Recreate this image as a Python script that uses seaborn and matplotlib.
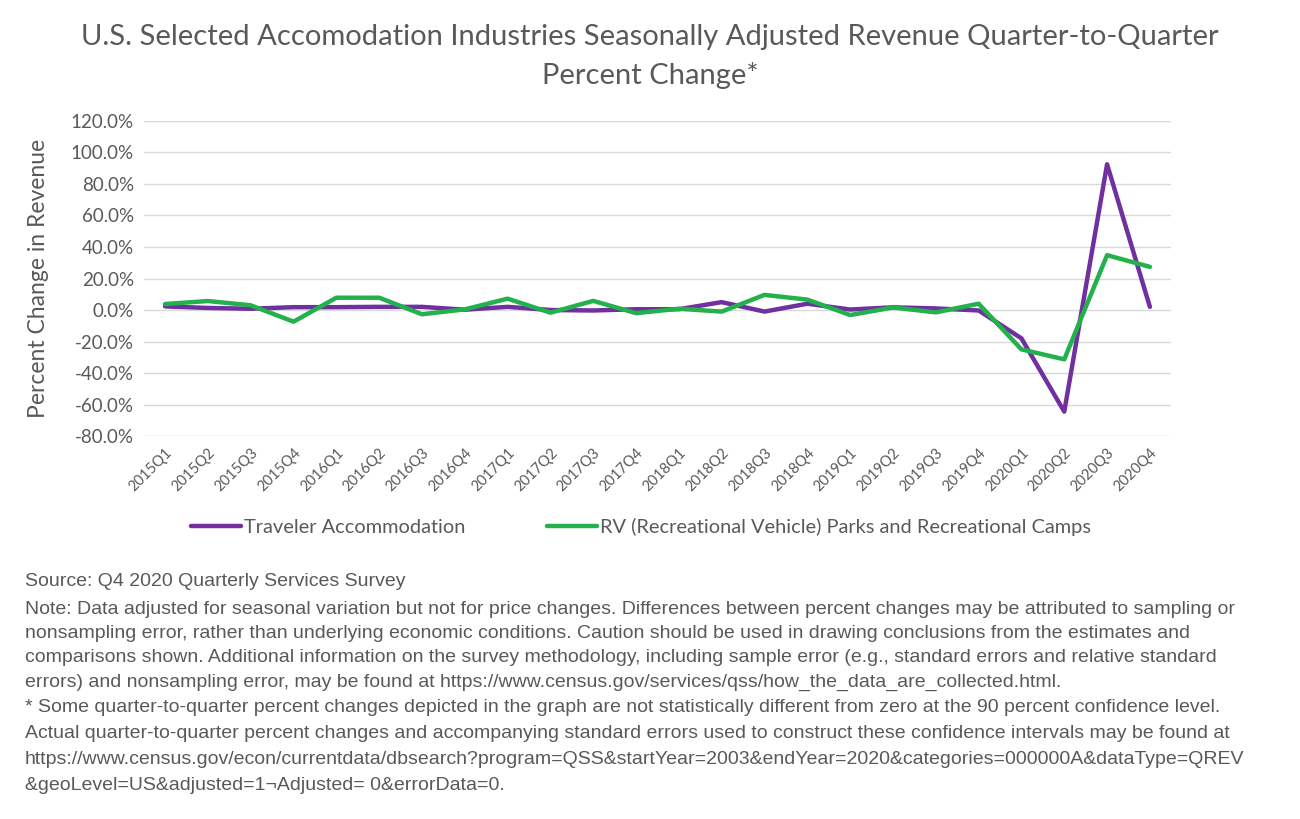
import pandas as pd
import matplotlib.pyplot as plt
import seaborn as sns
from matplotlib.ticker import FuncFormatter, FixedLocator
from matplotlib.lines import Line2D

# Data (percent change, quarter-to-quarter)
quarters = [f"{y}Q{q}" for y in range(2015, 2021) for q in range(1, 5)]
traveler = [2.3, 1.3, 0.8, 1.8, 1.8, 2.0, 2.0, 0.2, 2.0, 0.0, -0.3, 0.5,
            0.5, 5.0, -1.0, 4.0, 0.3, 1.7, 1.0, -0.3, -18.0, -64.5, 92.5, 2.0]
rv_parks = [3.8, 5.7, 3.0, -7.4, 7.8, 7.8, -2.7, 0.4, 7.2, -1.7, 5.8, -2.0,
            0.8, -1.0, 9.6, 6.6, -3.2, 1.6, -1.5, 4.0, -25.0, -31.3, 34.8, 27.4]

series_names = ["Traveler Accommodation",
                "RV (Recreational Vehicle) Parks and Recreational Camps"]
colors = ["#7030A0", "#22B14C"]

df = pd.DataFrame({
    "quarter": quarters * 2,
    "idx": list(range(len(quarters))) * 2,
    "pct": traveler + rv_parks,
    "series": [series_names[0]] * len(quarters) + [series_names[1]] * len(quarters),
})

sns.set_style("white")
plt.rcParams["font.family"] = ["Lato", "DejaVu Sans"]

gray = "#595959"
fig = plt.figure(figsize=(13, 8.19), dpi=100)
ax = fig.add_axes([0.1105, 0.4676, 0.7905, 0.3847])

sns.lineplot(data=df, x="idx", y="pct", hue="series", palette=colors,
             linewidth=3.2, ax=ax, legend=False, solid_capstyle="round")

ax.set_xlim(-0.5, len(quarters) - 0.5)
ax.set_ylim(-80, 120)
ax.yaxis.set_major_locator(FixedLocator(range(-80, 121, 20)))
ax.yaxis.set_major_formatter(FuncFormatter(lambda v, p: f"{v:.1f}%"))
ax.set_xticks(range(len(quarters)))
ax.set_xticklabels(quarters, rotation=45, ha="right", rotation_mode="anchor")
ax.grid(axis="y", color="#D9D9D9", linewidth=1)
ax.set_axisbelow(True)
for s in ax.spines.values():
    s.set_visible(False)
ax.tick_params(axis="y", length=0, pad=7, labelsize=13.5, labelcolor=gray)
ax.tick_params(axis="x", length=0, pad=7, labelsize=10.5, labelcolor=gray)
ax.set_xlabel("")
ax.set_ylabel("Percent Change in Revenue", fontsize=16.5, color=gray, labelpad=16)

fig.text(0.5, 0.955, "U.S. Selected Accomodation Industries Seasonally Adjusted Revenue Quarter-to-Quarter",
         ha="center", va="center", fontsize=21, color=gray)
fig.text(0.5, 0.908, "Percent Change*", ha="center", va="center", fontsize=21, color=gray)

handles = [Line2D([0], [0], color=c, linewidth=3.2, solid_capstyle="round") for c in colors]
fig.legend(handles, series_names, loc="center", bbox_to_anchor=(0.493, 0.357), ncol=2,
           frameon=False, fontsize=14.4, labelcolor=gray, handlelength=2.5,
           handletextpad=0.15, columnspacing=4.1)

notes = [
    (581, "Source: Q4 2020 Quarterly Services Survey"),
    (610, "Note: Data adjusted for seasonal variation but not for price changes. Differences between percent changes may be attributed to sampling or"),
    (634, "nonsampling error, rather than underlying economic conditions. Caution should be used in drawing conclusions from the estimates and"),
    (658, "comparisons shown. Additional information on the survey methodology, including sample error (e.g., standard errors and relative standard"),
    (682, "errors) and nonsampling error, may be found at https://www.census.gov/services/qss/how_the_data_are_collected.html."),
    (708, "* Some quarter-to-quarter percent changes depicted in the graph are not statistically different from zero at the 90 percent confidence level."),
    (733, "Actual quarter-to-quarter percent changes and accompanying standard errors used to construct these confidence intervals may be found at"),
    (760, "https://www.census.gov/econ/currentdata/dbsearch?program=QSS&startYear=2003&endYear=2020&categories=000000A&dataType=QREV"),
    (786, "&geoLevel=US&adjusted=1\u00acAdjusted= 0&errorData=0."),
]
for ypix, line in notes:
    fig.text(25 / 1300, 1 - ypix / 819, line, ha="left", va="center",
             fontsize=14, color=gray, family=["Liberation Sans", "DejaVu Sans"])

fig.savefig("out.png", dpi=100, facecolor="white")
